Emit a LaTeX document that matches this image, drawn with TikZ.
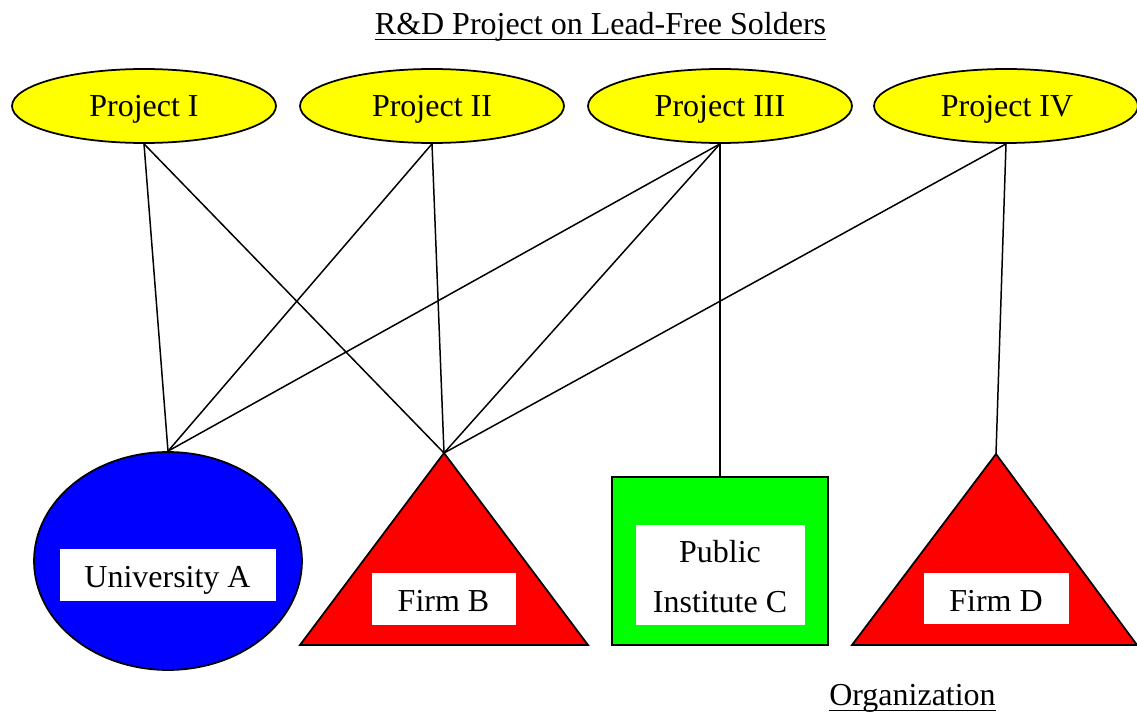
\documentclass[tikz,border=0pt]{standalone}
\usepackage{fontspec}
\setmainfont{Liberation Serif}
\usetikzlibrary{shapes.geometric}
\definecolor{projyellow}{RGB}{255,255,0}
\definecolor{univblue}{RGB}{0,0,255}
\definecolor{firmred}{RGB}{255,0,0}
\definecolor{instgreen}{RGB}{0,255,0}
\begin{document}
\begin{tikzpicture}[x=0.02cm,y=-0.02cm,
  every node/.style={font=\fontsize{18.2}{27.5}\selectfont},
  txt/.style={anchor=base,inner sep=0pt},
  proj/.style={ellipse,draw=black,line width=1pt,fill=projyellow,minimum width=5.28cm,minimum height=1.48cm,inner sep=0pt},
  lbl/.style={fill=white,inner sep=0pt},
  edge/.style={draw=black,line width=0.85pt},
  uline/.style={draw=black,line width=1pt},
  shapeline/.style={draw=black,line width=1pt}]
\useasboundingbox (0,0) rectangle (1137,713);
% title
\node[txt] (title) at (600.5,35) {R\&D Project on Lead-Free Solders};
\draw[uline] ([yshift=-0.09cm]title.base west) -- ([yshift=-0.09cm]title.base east);
\node[txt] (org) at (912.5,705) {Organization};
\draw[uline] ([yshift=-0.11cm]org.base west) -- ([yshift=-0.11cm]org.base east);
% projects
\node[proj] (p1) at (144,106) {};
\node[proj] (p2) at (432,106) {};
\node[proj] (p3) at (720,106) {};
\node[proj] (p4) at (1006,106) {};
\node[txt] (t1) at (144,117) {Project I};
\node[txt] (t2) at (432,117) {Project II};
\node[txt] (t3) at (720,117) {Project III};
\node[txt] (t4) at (1007,117) {Project IV};
% organizations
\node[ellipse,shapeline,fill=univblue,minimum width=5.36cm,minimum height=4.36cm,inner sep=0pt] (ua) at (168,561) {};
\node[lbl,minimum width=4.32cm,minimum height=1.04cm] (ual) at (168,575) {};
\node[txt] (uat) at (167.5,587) {University A};
\filldraw[shapeline,fill=firmred] (444,453) -- (588,645) -- (300,645) -- cycle;
\coordinate (fb) at (444,453);
\node[lbl,minimum width=2.88cm,minimum height=1.04cm] (fbl) at (444,599) {};
\node[txt] (fbt) at (443.5,611) {Firm B};
\node[rectangle,shapeline,fill=instgreen,minimum width=4.32cm,minimum height=3.36cm,inner sep=0pt] (pc) at (720,561) {};
\node[lbl,minimum width=3.38cm,minimum height=2cm] (pcl) at (720.5,575) {};
\node[txt] (pct1) at (720,562) {Public};
\node[txt] (pct2) at (720,612) {Institute C};
\filldraw[shapeline,fill=firmred] (996,454) -- (1137,645) -- (852,645) -- cycle;
\coordinate (fd) at (996,454);
\node[lbl,minimum width=2.9cm,minimum height=1.02cm] (fdl) at (996.5,598.5) {};
\node[txt] (fdt) at (996,611) {Firm D};
% connectors
\draw[edge] (p1.south) -- (ua.north);
\draw[edge] (p1.south) -- (fb);
\draw[edge] (p2.south) -- (ua.north);
\draw[edge] (p2.south) -- (fb);
\draw[edge] (p3.south) -- (ua.north);
\draw[edge] (p3.south) -- (fb);
\draw[edge] (p3.south) -- (pc.north);
\draw[edge] (p4.south) -- (fb);
\draw[edge] (p4.south) -- (fd);
\end{tikzpicture}
\end{document}
